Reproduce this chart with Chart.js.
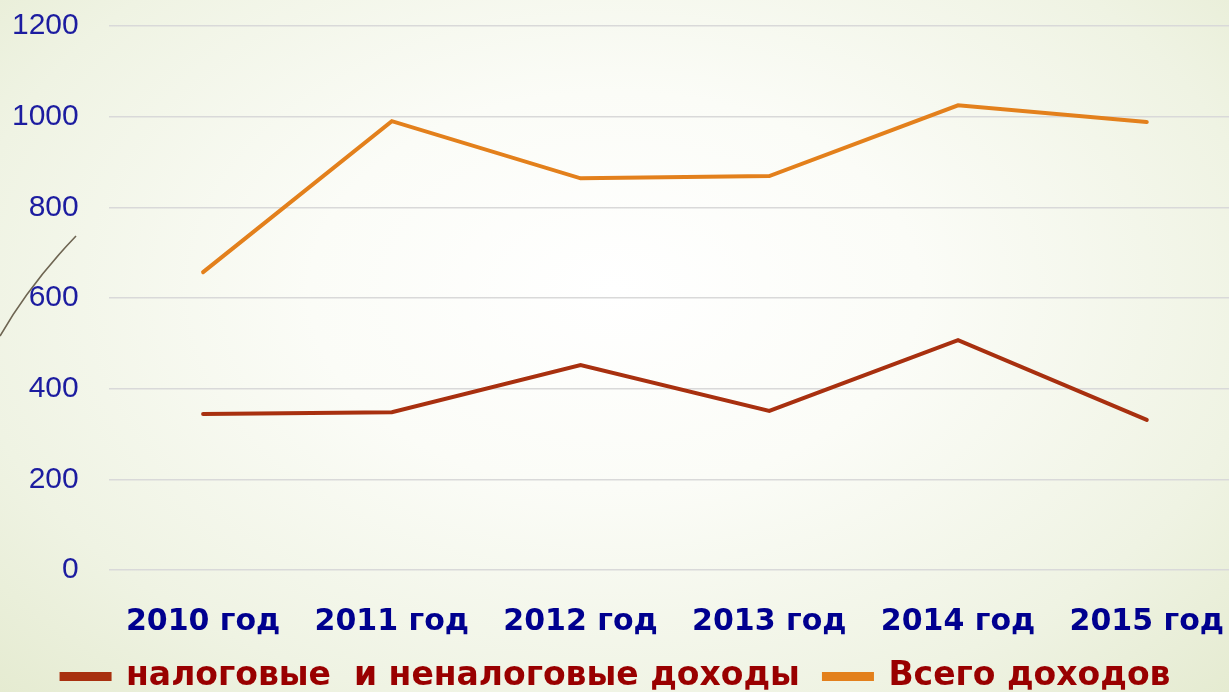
<!DOCTYPE html>
<html lang="ru">
<head>
<meta charset="utf-8">
<title>Доходы 2010–2015</title>
<script src="https://cdn.jsdelivr.net/npm/chart.js@4.4.1/dist/chart.umd.min.js"></script>
<style>
    html, body {
        margin: 0;
        padding: 0;
        width: 1229px;
        height: 692px;
        overflow: hidden;
    }
    body {
        position: relative;
        background: radial-gradient(ellipse at 50% 42%, #ffffff 0%, #fbfcf7 35%, #eff3e3 75%, #e5ebd1 100%);
    }
    .chart-box {
        position: absolute;
        left: -29px;
        top: -22px;
        width: 1279px;
        height: 725px;
    }
    .deco {
        position: absolute;
        left: 0;
        top: 0;
        pointer-events: none;
    }
</style>
</head>
<body>
<svg class="deco" width="100" height="360">
    <path d="M0 336 Q 30 284 76 236" stroke="#6e6552" stroke-width="1.6" fill="none"/>
</svg>
<div class="chart-box">
    <canvas id="incomeChart"></canvas>
</div>
<script>
// данные
const years = ['2010 год', '2011 год', '2012 год', '2013 год', '2014 год', '2015 год'];
const taxIncome = [344, 348, 452, 351, 507, 331];
const totalIncome = [657, 990, 864, 869, 1025, 988];
const yTicks = [0, 200, 400, 600, 800, 1000, 1200];

// цвета
const COLORS = {
    tax: '#a8300f',
    total: '#e3801c',
    yTick: '#1c1ca0',
    xTick: '#00008f',
    legend: '#990000',
    grid: '#d9d9d9'
};

// построение графика
function initIncomeChart() {
    const ctx = document.getElementById('incomeChart').getContext('2d');
    return new Chart(ctx, {
        type: 'line',
        data: {
            labels: years,
            datasets: [{
                label: 'налоговые  и неналоговые доходы',
                data: taxIncome,
                borderColor: COLORS.tax,
                backgroundColor: COLORS.tax,
                borderWidth: 4,
                pointRadius: 0,
                borderCapStyle: 'round',
                tension: 0
            }, {
                label: 'Всего доходов',
                data: totalIncome,
                borderColor: COLORS.total,
                backgroundColor: COLORS.total,
                borderWidth: 4,
                pointRadius: 0,
                borderCapStyle: 'round',
                tension: 0
            }]
        },
        options: {
            responsive: true,
            maintainAspectRatio: false,
            animation: false,
            layout: {
                padding: { left: 11, top: 8, right: 0, bottom: 0 }
            },
            plugins: {
                tooltip: { enabled: false },
                legend: {
                    position: 'bottom',
                    labels: {
                        boxWidth: 48,
                        boxHeight: 5,
                        padding: 24,
                        color: COLORS.legend,
                        font: { family: 'DejaVu Sans', size: 33, weight: 'bold' }
                    }
                }
            },
            scales: {
                x: {
                    offset: true,
                    border: { display: false },
                    grid: { display: false },
                    afterFit: axis => {
                        axis.height = 66;
                    },
                    ticks: {
                        padding: 26,
                        color: COLORS.xTick,
                        maxRotation: 0,
                        font: { family: 'DejaVu Sans', size: 30, weight: 'bold' }
                    }
                },
                y: {
                    min: 0,
                    max: 1200,
                    afterBuildTicks: axis => {
                        axis.ticks = yTicks.map(v => ({ value: v }));
                    },
                    border: { display: false },
                    grid: {
                        color: COLORS.grid,
                        lineWidth: 1.5,
                        drawTicks: false
                    },
                    ticks: {
                        padding: 30,
                        color: COLORS.yTick,
                        font: { family: 'Liberation Sans', size: 30 },
                        callback: value => String(value)
                    }
                }
            }
        }
    });
}

document.addEventListener('DOMContentLoaded', () => {
    initIncomeChart();
});
</script>
</body>
</html>
